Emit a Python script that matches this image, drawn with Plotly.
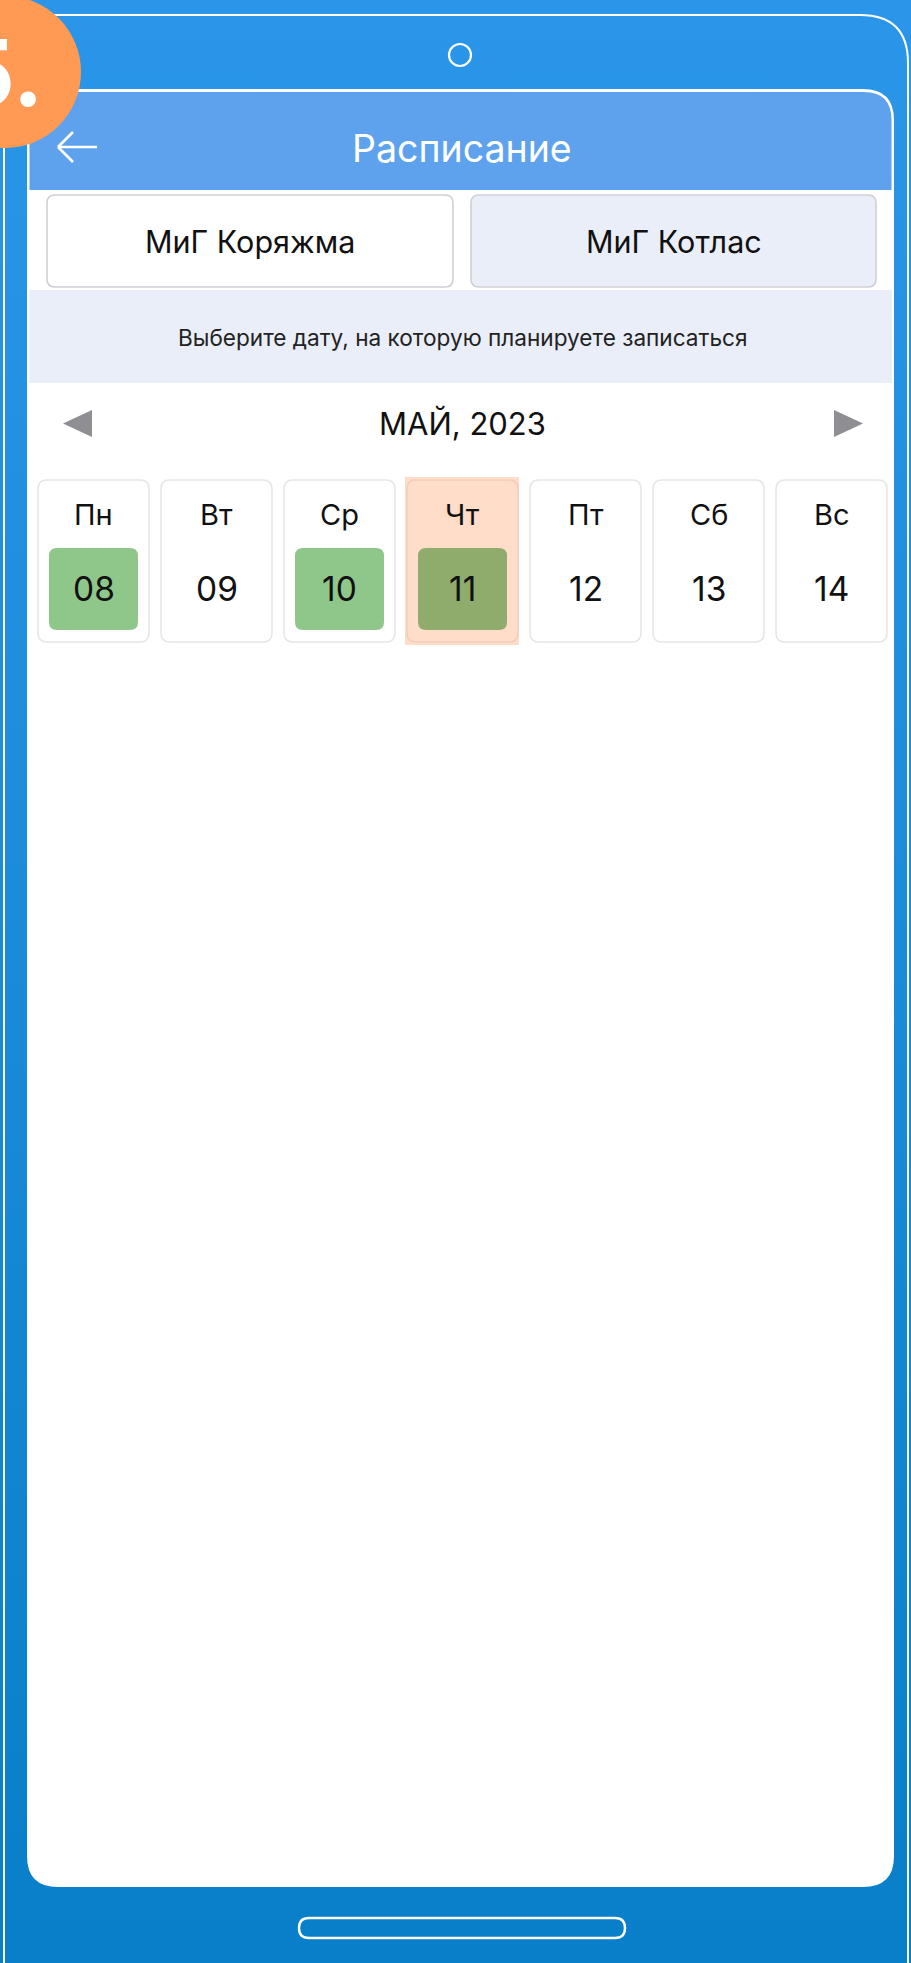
import plotly.graph_objects as go

# ---------------- data ----------------
screen_title = "Расписание"
step_label = "5."
branches = ["МиГ Коряжма", "МиГ Котлас"]
active_branch = 1
prompt_text = "Выберите дату, на которую планируете записаться"
month_label = "МАЙ, 2023"
day_names = ["Пн", "Вт", "Ср", "Чт", "Пт", "Сб", "Вс"]
day_numbers = ["08", "09", "10", "11", "12", "13", "14"]
day_available = [True, False, True, True, False, False, False]
selected_day = 3

# ---------------- style ----------------
W, H = 911, 1963
FONT = "Inter, 'Noto Sans', sans-serif"
BG_TOP, BG_BOTTOM = "#2B96E9", "#087FC8"
HEADER = "#5EA2EE"
LAVENDER = "#EAEEF8"
GREEN = "#8FC68A"
GREEN_SEL = "#8FAC6C"
PEACH = "#FFDDC8"
ORANGE = "#FF9A55"
GREY = "#8E8E93"


def rrect(x0, y0, x1, y1, r):
    return (f"M{x0+r},{y0} L{x1-r},{y0} Q{x1},{y0} {x1},{y0+r} "
            f"L{x1},{y1-r} Q{x1},{y1} {x1-r},{y1} L{x0+r},{y1} "
            f"Q{x0},{y1} {x0},{y1-r} L{x0},{y0+r} Q{x0},{y0} {x0+r},{y0} Z")


def top_rrect(x0, y0, x1, y1, r):
    return (f"M{x0},{y1} L{x0},{y0+r} Q{x0},{y0} {x0+r},{y0} "
            f"L{x1-r},{y0} Q{x1},{y0} {x1},{y0+r} L{x1},{y1} Z")


fig = go.Figure()

# gradient background (light at top, darker at bottom)
fig.add_trace(go.Scatter(
    x=[0, W, W, 0, 0], y=[0, 0, H, H, 0], mode="lines", fill="toself",
    line=dict(width=0, color=BG_TOP),
    fillgradient=dict(type="vertical", colorscale=[[0, BG_BOTTOM], [1, BG_TOP]]),
    hoverinfo="skip", showlegend=False))

shapes = []
ann = []

# phone outer outline
shapes.append(dict(type="path", path=rrect(4, 15, 908, 2010, 48),
                   line=dict(color="white", width=2), fillcolor="rgba(0,0,0,0)"))
# camera
shapes.append(dict(type="circle", x0=449, y0=44, x1=471, y1=66,
                   line=dict(color="white", width=2.2)))
# screen
shapes.append(dict(type="path", path=rrect(28, 90, 893, 1886, 30),
                   line=dict(color="white", width=2), fillcolor="white"))
# header
shapes.append(dict(type="path", path=top_rrect(29.5, 92, 891.5, 190, 28),
                   line=dict(width=0), fillcolor=HEADER))
# back arrow
arrow_line = dict(color="white", width=2.6)
shapes.append(dict(type="line", x0=58, y0=147, x1=97, y1=147, line=arrow_line))
shapes.append(dict(type="line", x0=58, y0=147, x1=73, y1=132, line=arrow_line))
shapes.append(dict(type="line", x0=58, y0=147, x1=73, y1=162, line=arrow_line))
ann.append(dict(x=462, y=148, text=screen_title,
                font=dict(family=FONT, size=37.5, color="white")))

# branch buttons
btn_x = [(47, 453), (471, 876)]
for i, name in enumerate(branches):
    x0, x1 = btn_x[i]
    shapes.append(dict(type="path", path=rrect(x0, 195, x1, 287, 8),
                       line=dict(color="#CFD0D6", width=1.6),
                       fillcolor=LAVENDER if i == active_branch else "white"))
    ann.append(dict(x=(x0 + x1) / 2, y=241, text=name,
                    font=dict(family=FONT, size=30.5, color="#111111")))

# prompt band
shapes.append(dict(type="rect", x0=29, y0=290, x1=892, y1=383,
                   line=dict(width=0), fillcolor=LAVENDER))
ann.append(dict(x=462, y=337, text=prompt_text,
                font=dict(family=FONT, size=22.6, color="#222222")))

# month navigation
shapes.append(dict(type="path", path="M92,410 L63,423.5 L92,437 Z",
                   line=dict(width=0), fillcolor=GREY))
shapes.append(dict(type="path", path="M834,410 L863,423.5 L834,437 Z",
                   line=dict(width=0), fillcolor=GREY))
ann.append(dict(x=462, y=423, text=month_label,
                font=dict(family=FONT, size=31, color="#111111")))

# day cards
pitch, card_w = 123, 111
for i, (dn, num) in enumerate(zip(day_names, day_numbers)):
    x0 = 38 + i * pitch
    x1 = x0 + card_w
    cx = (x0 + x1) / 2
    if i == selected_day:
        shapes.append(dict(type="rect", x0=x0 - 2, y0=477, x1=x1 + 1, y1=645,
                           line=dict(width=0), fillcolor=PEACH))
        shapes.append(dict(type="path", path=rrect(x0, 480, x1, 642, 9),
                           line=dict(color="#F3CDB8", width=1.5),
                           fillcolor="rgba(0,0,0,0)"))
    else:
        shapes.append(dict(type="path", path=rrect(x0, 480, x1, 642, 9),
                           line=dict(color="#E6E6E8", width=1.6), fillcolor="white"))
    if day_available[i]:
        shapes.append(dict(type="path", path=rrect(x0 + 11, 548, x0 + 100, 630, 8),
                           line=dict(width=0),
                           fillcolor=GREEN_SEL if i == selected_day else GREEN))
    ann.append(dict(x=cx, y=514, text=dn,
                    font=dict(family=FONT, size=29, color="#111111")))
    ann.append(dict(x=cx, y=589, text=num,
                    font=dict(family=FONT, size=33.5, color="#111111")))

# home bar
shapes.append(dict(type="path", path=rrect(299, 1918, 625, 1938, 10),
                   line=dict(color="white", width=2.4), fillcolor="rgba(0,0,0,0)"))

# step badge
shapes.append(dict(type="circle", x0=5 - 76, y0=72 - 76, x1=5 + 76, y1=72 + 76,
                   line=dict(width=0), fillcolor=ORANGE))
ann.append(dict(x=45, y=72, text=f"<b>{step_label}</b>", xanchor="right",
                font=dict(family="Inter, sans-serif", size=92, color="white")))

for a in ann:
    a.setdefault("showarrow", False)
    a.setdefault("xanchor", "center")
    a.setdefault("yanchor", "middle")
    a["xref"] = "x"
    a["yref"] = "y"

fig.update_layout(
    width=W, height=H, margin=dict(l=0, r=0, t=0, b=0),
    paper_bgcolor=BG_BOTTOM, plot_bgcolor=BG_BOTTOM,
    xaxis=dict(range=[0, W], visible=False, fixedrange=True),
    yaxis=dict(range=[H, 0], visible=False, fixedrange=True),
    shapes=shapes, annotations=ann, showlegend=False,
)

fig.write_html("out.html", config={"displayModeBar": False},
               post_script="document.body.style.margin='0';")
